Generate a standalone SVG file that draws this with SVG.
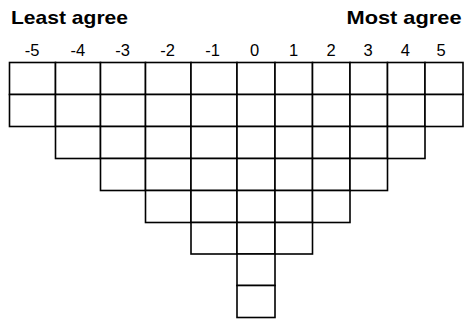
<svg xmlns="http://www.w3.org/2000/svg" width="467" height="323" viewBox="0 0 467 323">
<style>
.t{font-family:"Liberation Sans",Arial,sans-serif;font-weight:bold;font-size:19px;fill:#000}
.n{font-family:"Liberation Sans",Arial,sans-serif;font-size:16.5px;fill:#000;text-anchor:middle}
.c{fill:#fff;stroke:#000;stroke-width:1.6}
</style>
<rect width="467" height="323" fill="#fff"/>
<g id="titles">
<text class="t" x="11" y="24" textLength="117" lengthAdjust="spacingAndGlyphs">Least agree</text>
<text class="t" x="346.5" y="24" textLength="115" lengthAdjust="spacingAndGlyphs">Most agree</text>
</g>
<g id="scale">
<text class="n" x="32.2" y="55.7">-5</text>
<text class="n" x="77.8" y="55.7">-4</text>
<text class="n" x="122.5" y="55.7">-3</text>
<text class="n" x="167.5" y="55.7">-2</text>
<text class="n" x="212.5" y="55.7">-1</text>
<text class="n" x="254.5" y="55.7">0</text>
<text class="n" x="293.7" y="55.7">1</text>
<text class="n" x="331" y="55.7">2</text>
<text class="n" x="368" y="55.7">3</text>
<text class="n" x="405.3" y="55.7">4</text>
<text class="n" x="441.2" y="55.7">5</text>
</g>
<g id="row1">
<rect class="c" x="9.5" y="62.5" width="46" height="32"/>
<rect class="c" x="55.5" y="62.5" width="45" height="32"/>
<rect class="c" x="100.5" y="62.5" width="45" height="32"/>
<rect class="c" x="145.5" y="62.5" width="45.5" height="32"/>
<rect class="c" x="191" y="62.5" width="46" height="32"/>
<rect class="c" x="237" y="62.5" width="38" height="32"/>
<rect class="c" x="275" y="62.5" width="37.5" height="32"/>
<rect class="c" x="312.5" y="62.5" width="37.5" height="32"/>
<rect class="c" x="350" y="62.5" width="37.5" height="32"/>
<rect class="c" x="387.5" y="62.5" width="37.5" height="32"/>
<rect class="c" x="425" y="62.5" width="38" height="32"/>
</g>
<g id="row2">
<rect class="c" x="9.5" y="94.5" width="46" height="32"/>
<rect class="c" x="55.5" y="94.5" width="45" height="32"/>
<rect class="c" x="100.5" y="94.5" width="45" height="32"/>
<rect class="c" x="145.5" y="94.5" width="45.5" height="32"/>
<rect class="c" x="191" y="94.5" width="46" height="32"/>
<rect class="c" x="237" y="94.5" width="38" height="32"/>
<rect class="c" x="275" y="94.5" width="37.5" height="32"/>
<rect class="c" x="312.5" y="94.5" width="37.5" height="32"/>
<rect class="c" x="350" y="94.5" width="37.5" height="32"/>
<rect class="c" x="387.5" y="94.5" width="37.5" height="32"/>
<rect class="c" x="425" y="94.5" width="38" height="32"/>
</g>
<g id="row3">
<rect class="c" x="55.5" y="126.5" width="45" height="32"/>
<rect class="c" x="100.5" y="126.5" width="45" height="32"/>
<rect class="c" x="145.5" y="126.5" width="45.5" height="32"/>
<rect class="c" x="191" y="126.5" width="46" height="32"/>
<rect class="c" x="237" y="126.5" width="38" height="32"/>
<rect class="c" x="275" y="126.5" width="37.5" height="32"/>
<rect class="c" x="312.5" y="126.5" width="37.5" height="32"/>
<rect class="c" x="350" y="126.5" width="37.5" height="32"/>
<rect class="c" x="387.5" y="126.5" width="37.5" height="32"/>
</g>
<g id="row4">
<rect class="c" x="100.5" y="158.5" width="45" height="32"/>
<rect class="c" x="145.5" y="158.5" width="45.5" height="32"/>
<rect class="c" x="191" y="158.5" width="46" height="32"/>
<rect class="c" x="237" y="158.5" width="38" height="32"/>
<rect class="c" x="275" y="158.5" width="37.5" height="32"/>
<rect class="c" x="312.5" y="158.5" width="37.5" height="32"/>
<rect class="c" x="350" y="158.5" width="37.5" height="32"/>
</g>
<g id="row5">
<rect class="c" x="145.5" y="190.5" width="45.5" height="32"/>
<rect class="c" x="191" y="190.5" width="46" height="32"/>
<rect class="c" x="237" y="190.5" width="38" height="32"/>
<rect class="c" x="275" y="190.5" width="37.5" height="32"/>
<rect class="c" x="312.5" y="190.5" width="37.5" height="32"/>
</g>
<g id="row6">
<rect class="c" x="191" y="222.5" width="46" height="31.5"/>
<rect class="c" x="237" y="222.5" width="38" height="31.5"/>
<rect class="c" x="275" y="222.5" width="37.5" height="31.5"/>
</g>
<g id="row7">
<rect class="c" x="237" y="254" width="38" height="31.5"/>
</g>
<g id="row8">
<rect class="c" x="237" y="285.5" width="38" height="32"/>
</g>
</svg>
